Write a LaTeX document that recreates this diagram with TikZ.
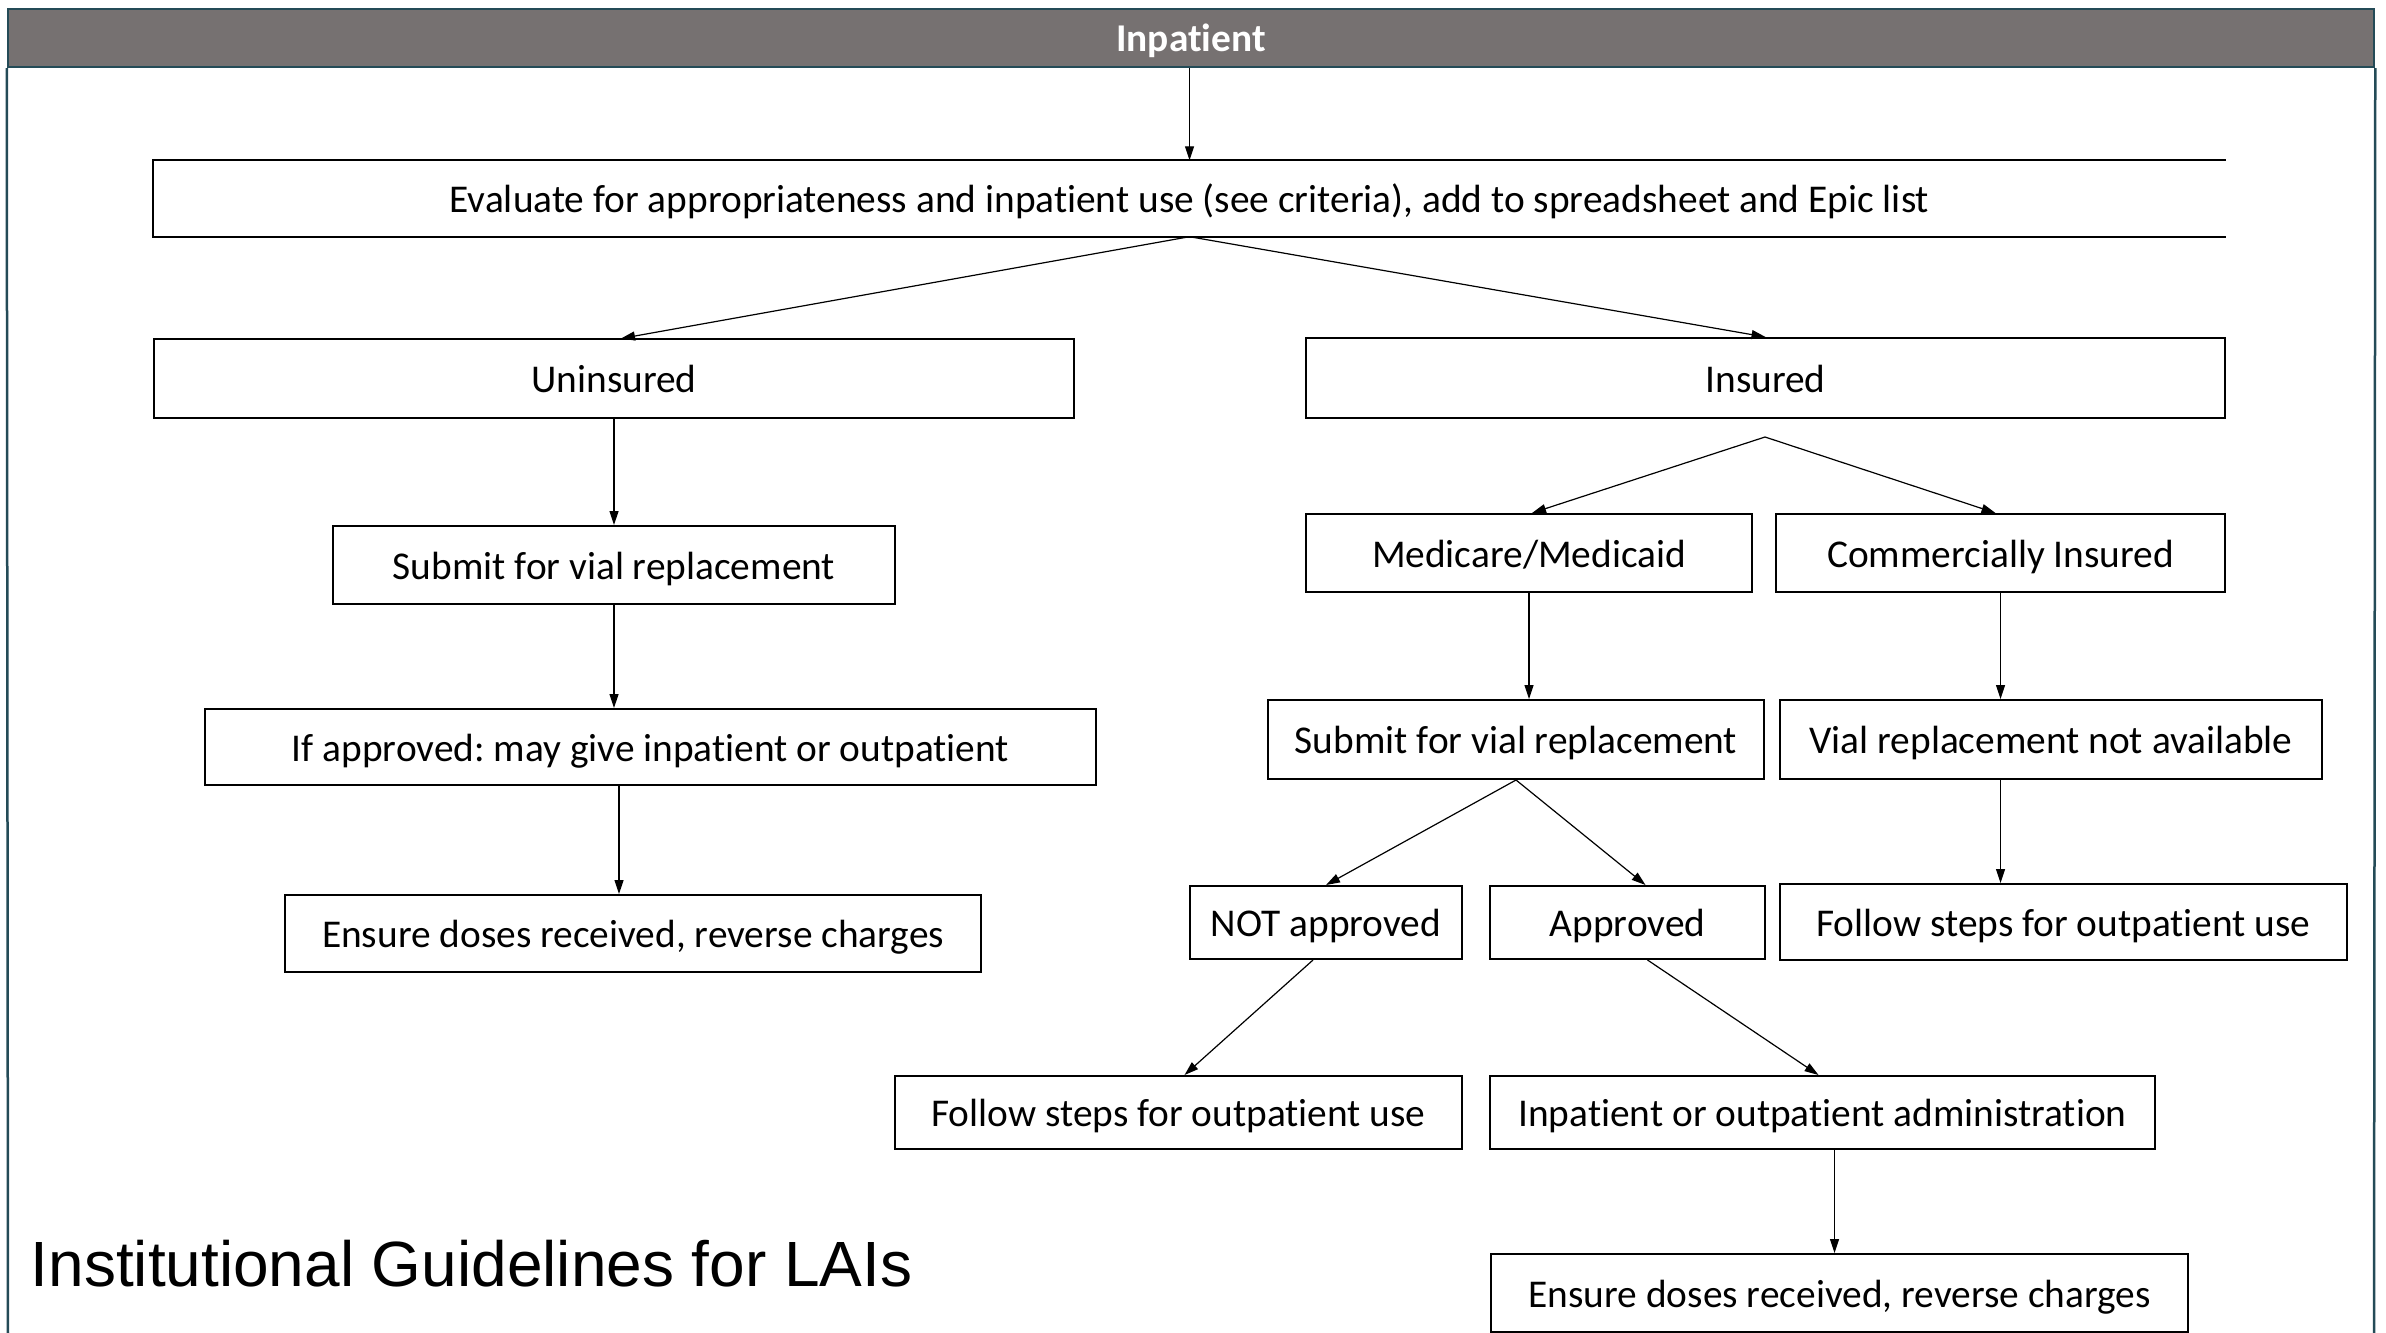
\documentclass[tikz,border=0pt]{standalone}
\usepackage{fontspec}
\setmainfont{Carlito}[Ligatures=NoCommon]
\newfontfamily\titlefont{Liberation Sans}
\usetikzlibrary{arrows.meta}
\definecolor{headgray}{HTML}{767171}
\definecolor{framecol}{HTML}{244B57}
\frenchspacing
\begin{document}
\begin{tikzpicture}[x=0.1mm,y=-0.1mm,
    every node/.style={font=\fontsize{11.2}{13}\selectfont, inner sep=0pt, text height=3.5mm, text depth=0.7mm},
    box/.style={draw, line width=0.2mm, minimum height=7.8mm},
    arr/.style={-{Triangle[length=1.4mm,width=0.9mm]}, line width=0.12mm}]
    \useasboundingbox (0,0) rectangle (2386,1333);
    % header and frame
    \node[draw=framecol, line width=0.25mm, fill=headgray, text=white, font=\fontsize{11.2}{13}\selectfont\bfseries,
        minimum width=236.6mm, minimum height=5.8mm] (head) at (1191,38) {Inpatient};
    \draw[framecol, line width=0.25mm] (head.south west) -- (8,1333);
    \draw[framecol, line width=0.25mm] (head.south east) -- (2374,1333);
    % top box, open on the right
    \node[minimum width=207.1mm, minimum height=7.5mm] (eval) at (1189.5,198.5)
        {Evaluate for appropriateness and inpatient use (see criteria), add to spreadsheet and Epic list};
    \draw[line width=0.2mm] (eval.north east) -- (eval.north west) -- (eval.south west) -- (eval.south east);
    % uninsured side
    \node[box, minimum width=92mm] (unins) at (614,378.5) {Uninsured};
    \node[box, minimum width=56.2mm] (subl) at (614,565) {Submit for vial replacement};
    \node[box, minimum width=89.1mm, minimum height=7.6mm] (ifapp) at (650.5,747) {If approved: may give inpatient or outpatient};
    \node[box, minimum width=69.6mm, minimum height=7.7mm] (ensl) at (633,933.5) {Ensure doses received, reverse charges};
    % insured side
    \node[box, minimum width=91.9mm, minimum height=8mm] (ins) at (1765.5,378) {Insured};
    \coordinate (insfork) at (1765,437);
    \node[box, minimum width=44.6mm] (medi) at (1529,553) {Medicare/Medicaid};
    \node[box, minimum width=44.9mm] (comm) at (2000.5,553) {Commercially Insured};
    \node[box, minimum width=49.6mm, minimum height=7.9mm] (subr) at (1516,739.5) {Submit for vial replacement};
    \node[box, minimum width=54.2mm, minimum height=7.9mm] (vial) at (2051,739.5) {Vial replacement not available};
    \node[box, minimum width=27.2mm, minimum height=7.3mm] (notapp) at (1326,922.5) {NOT approved};
    \node[box, minimum width=27.5mm, minimum height=7.3mm] (app) at (1627.5,922.5) {Approved};
    \node[box, minimum width=56.7mm, minimum height=7.6mm] (follr) at (2063.5,922) {Follow steps for outpatient use};
    \node[box, minimum width=56.7mm, minimum height=7.3mm] (folll) at (1178.5,1112.5) {Follow steps for outpatient use};
    \node[box, minimum width=66.5mm, minimum height=7.3mm] (inout) at (1822.5,1112.5) {Inpatient or outpatient administration};
    \node[box, minimum width=69.7mm] (ensr) at (1839.5,1293) {Ensure doses received, reverse charges};
    \node[anchor=base west, font=\titlefont\fontsize{18.2}{21}\selectfont] (title) at (30,1286) {Institutional Guidelines for LAIs};
    % connectors
    \draw[arr] (head.south -| eval.north) -- (eval.north);
    \draw[arr] (eval.south) -- ([xshift=0.7mm]unins.north);
    \draw[arr] (eval.south) -- (ins.north);
    \draw[arr] (unins.south) -- (subl.north);
    \draw[arr] (subl.south) -- (subl.south |- ifapp.north);
    \draw[arr] ([xshift=-1.4mm]ensl.north |- ifapp.south) -- ([xshift=-1.4mm]ensl.north);
    \draw[arr] (insfork) -- ([xshift=0.3mm]medi.north);
    \draw[arr] (insfork) -- ([xshift=-0.5mm]comm.north);
    \draw[arr] (medi.south) -- (medi.south |- subr.north);
    \draw[arr] (comm.south) -- (comm.south |- vial.north);
    \draw[arr] (subr.south) -- (notapp.north);
    \draw[arr] (subr.south) -- ([xshift=1.8mm]app.north);
    \draw[arr] (comm.south |- vial.south) -- (comm.south |- follr.north);
    \draw[arr] ([xshift=-1.3mm]notapp.south) -- ([xshift=0.6mm]folll.north);
    \draw[arr] ([xshift=2mm]app.south) -- ([xshift=-0.4mm]inout.north);
    \draw[arr] ([xshift=-0.5mm]ensr.north |- inout.south) -- ([xshift=-0.5mm]ensr.north);
\end{tikzpicture}
\end{document}
